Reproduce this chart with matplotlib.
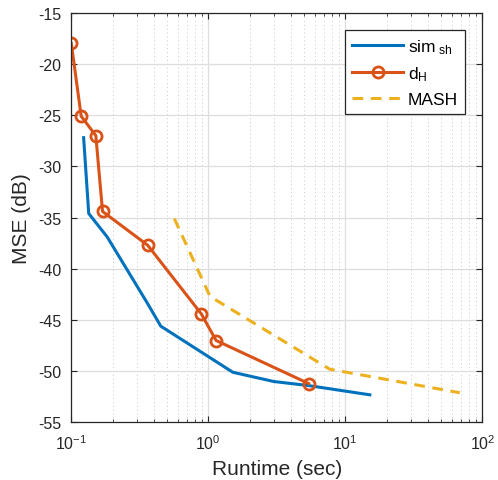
import numpy as np
import matplotlib.pyplot as plt
from matplotlib.ticker import LogLocator, MultipleLocator, NullFormatter

plt.rcParams['font.family'] = ['Liberation Sans', 'DejaVu Sans']
plt.rcParams['mathtext.fontset'] = 'custom'
plt.rcParams['mathtext.rm'] = 'Liberation Sans'
plt.rcParams['mathtext.it'] = 'Liberation Sans'
plt.rcParams['mathtext.default'] = 'regular'
plt.rcParams['axes.unicode_minus'] = False

# data
sim_t = [0.123, 0.134, 0.183, 0.357, 0.45, 1.51, 3.0, 5.4, 15.1]
sim_mse = [-27.2, -34.6, -36.9, -43.3, -45.6, -50.1, -51.0, -51.4, -52.3]

dh_t = [0.100, 0.118, 0.151, 0.169, 0.361, 0.889, 1.14, 5.4]
dh_mse = [-18.0, -25.1, -27.0, -34.4, -37.7, -44.4, -47.0, -51.2]

mash_t = [0.565, 1.03, 7.7, 68.5]
mash_mse = [-35.1, -42.7, -49.8, -52.1]

c_blue = '#0072BD'
c_red = '#D95319'
c_yel = '#EDB120'

fig = plt.figure(figsize=(4.98, 4.81), dpi=100)
ax = fig.add_axes([0.1432, 0.1196, 0.8253, 0.8519])

ax.plot(sim_t, sim_mse, color=c_blue, lw=2.2, label=r'sim$_{\rm \ sh}$')
ax.plot(dh_t, dh_mse, color=c_red, lw=2.2, marker='o', ms=8, mfc='none',
        mew=2.0, label=r'd$_{\rm H}$')
ax.plot(mash_t, mash_mse, color=c_yel, lw=2.2, ls=(0, (3.5, 2.5)), label='MASH')

ax.set_xscale('log')
ax.set_xlim(0.1, 100)
ax.set_ylim(-55, -15)
ax.yaxis.set_major_locator(MultipleLocator(5))
ax.xaxis.set_major_locator(LogLocator(base=10, numticks=10))
ax.xaxis.set_minor_locator(LogLocator(base=10, subs=np.arange(2, 10), numticks=20))
ax.xaxis.set_minor_formatter(NullFormatter())

ax.grid(True, which='major', color='#dedede', lw=0.9)
ax.grid(True, which='minor', axis='x', color='#c8c8c8', lw=0.7, ls=(0, (1, 3)))
ax.set_axisbelow(True)

ax.tick_params(which='both', direction='in', top=True, right=True, colors='#262626',
               labelsize=11.5)
ax.tick_params(which='major', length=4, width=0.8)
ax.tick_params(which='minor', length=2.5, width=0.6)
ax.tick_params(axis='y', pad=7)
ax.tick_params(axis='x', pad=8)
for s in ax.spines.values():
    s.set_color('#262626')
    s.set_linewidth(0.9)

ax.set_xlabel('Runtime (sec)', fontsize=15, color='#262626', labelpad=5)
ax.set_ylabel('MSE (dB)', fontsize=15, color='#262626', labelpad=5)

leg = ax.legend(loc='upper right', fontsize=12.5, handlelength=2.9,
                fancybox=False, framealpha=1, edgecolor='#262626',
                borderaxespad=1.0, labelspacing=0.5, handletextpad=0.3,
                borderpad=0.4)
leg.get_frame().set_linewidth(0.9)

fig.savefig('out.png', dpi=100)
